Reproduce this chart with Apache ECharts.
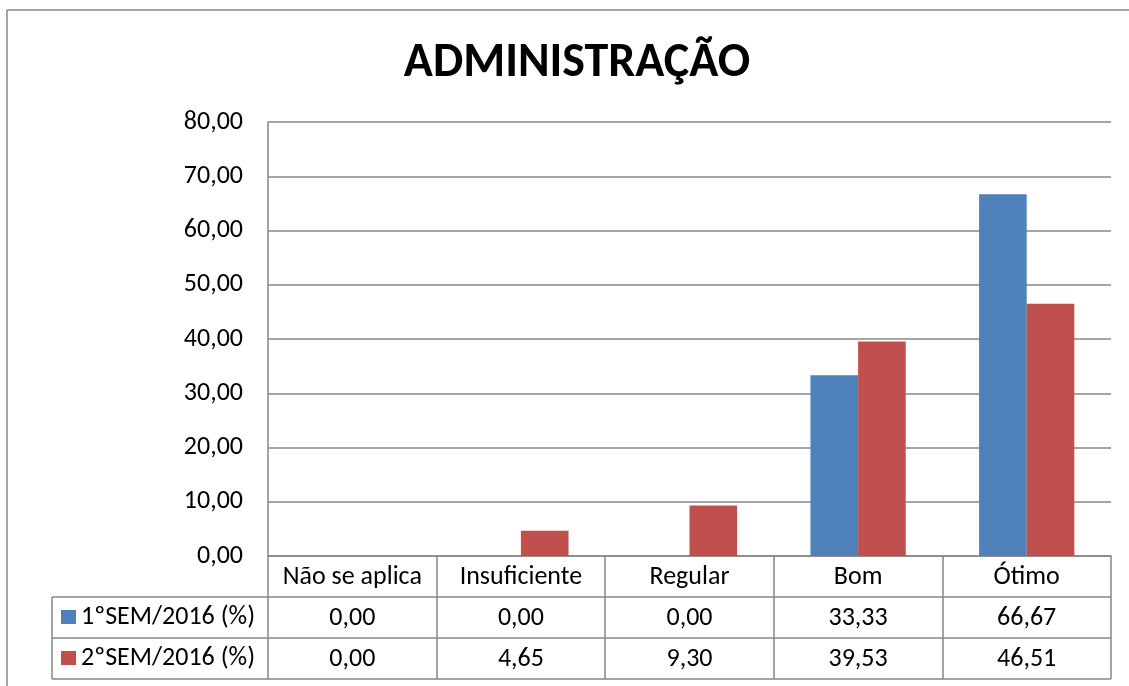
<!DOCTYPE html>
<html>
<head>
<meta charset="utf-8">
<script src="https://cdn.jsdelivr.net/npm/echarts@6/dist/echarts.min.js"></script>
<style>html,body{margin:0;padding:0;background:#fff;overflow:hidden;width:1129px;height:686px;}#c{width:1129px;height:686px;display:block;}</style>
</head>
<body>
<div id="c"></div>
<script>
const titleText = 'ADMINISTRAÇÃO';
const categories = ['Não se aplica', 'Insuficiente', 'Regular', 'Bom', 'Ótimo'];
const seriesNames = ['1ºSEM/2016 (%)', '2ºSEM/2016 (%)'];
const sem1 = [0.00, 0.00, 0.00, 33.33, 66.67];
const sem2 = [0.00, 4.65, 9.30, 39.53, 46.51];
const yMin = 0, yMax = 80, yStep = 10;

const FONT = 'Carlito, Lato, "Liberation Sans", sans-serif';
const GRID = '#878787';
const FS = 26;
const fmt = v => Number(v).toFixed(2).replace('.', ',');

const chart = echarts.init(document.getElementById('c'));
const gL = 268, gR = 1111, gT = 122, gB = 556;
const rowH = 41;
const lbl = { interval: 0, margin: 8, fontSize: FS, color: '#000', fontFamily: FONT };
chart.setOption({
  animation: false,
  backgroundColor: '#fff',
  textStyle: { fontFamily: FONT },
  title: {
    text: titleText, left: 572, top: 35, textAlign: 'center',
    textStyle: { fontFamily: FONT, fontWeight: 'bold', fontSize: 48, color: '#000' }
  },
  legend: {
    orient: 'vertical', left: 61, top: 604, padding: 0, itemWidth: 15, itemHeight: 14,
    itemGap: 15, icon: 'rect', selectedMode: false,
    textStyle: { fontFamily: FONT, fontSize: FS, color: '#000', lineHeight: 26 },
    data: seriesNames
  },
  grid: { left: gL, right: 1129 - gR, top: gT, bottom: 686 - gB, containLabel: false },
  xAxis: [
    {
      type: 'category', data: categories, position: 'bottom',
      axisLine: { show: true, lineStyle: { color: GRID, width: 1.5 } },
      axisTick: { show: true, length: rowH * 3, interval: 0, lineStyle: { color: GRID, width: 1.5 } },
      axisLabel: lbl
    },
    {
      type: 'category', data: sem1.map(fmt), position: 'bottom', offset: rowH,
      axisLine: { show: false }, axisTick: { show: false }, axisLabel: lbl
    },
    {
      type: 'category', data: sem2.map(fmt), position: 'bottom', offset: rowH * 2,
      axisLine: { show: false }, axisTick: { show: false }, axisLabel: lbl
    }
  ],
  yAxis: {
    type: 'value', min: yMin, max: yMax, interval: yStep,
    axisLine: { show: true, lineStyle: { color: GRID, width: 1.5 } },
    axisTick: { show: false },
    splitLine: { lineStyle: { color: GRID, width: 1.5 } },
    axisLabel: { formatter: fmt, fontSize: FS, color: '#000', margin: 25, fontFamily: FONT }
  },
  series: [
    { name: seriesNames[0], type: 'bar', data: sem1, xAxisIndex: 0, barGap: '0%', barCategoryGap: '43.5%',
      itemStyle: { color: '#4F81BD' } },
    { name: seriesNames[1], type: 'bar', data: sem2, xAxisIndex: 0, barGap: '0%', barCategoryGap: '43.5%',
      itemStyle: { color: '#C0504D' } }
  ],
  graphic: [
    { type: 'line', shape: { x1: 7, y1: 10, x2: 1129, y2: 10 }, style: { stroke: '#898989', lineWidth: 1.5 }, silent: true },
    { type: 'line', shape: { x1: 7, y1: 10, x2: 7, y2: 686 }, style: { stroke: '#898989', lineWidth: 1.5 }, silent: true },
    { type: 'line', shape: { x1: 52, y1: gB + rowH, x2: gR, y2: gB + rowH }, style: { stroke: GRID, lineWidth: 1.5 } },
    { type: 'line', shape: { x1: 52, y1: gB + rowH * 2, x2: gR, y2: gB + rowH * 2 }, style: { stroke: GRID, lineWidth: 1.5 } },
    { type: 'line', shape: { x1: 52, y1: gB + rowH * 3, x2: gR, y2: gB + rowH * 3 }, style: { stroke: GRID, lineWidth: 1.5 } },
    { type: 'line', shape: { x1: 52, y1: gB + rowH, x2: 52, y2: gB + rowH * 3 }, style: { stroke: GRID, lineWidth: 1.5 } }
  ]
});
</script>
</body>
</html>
